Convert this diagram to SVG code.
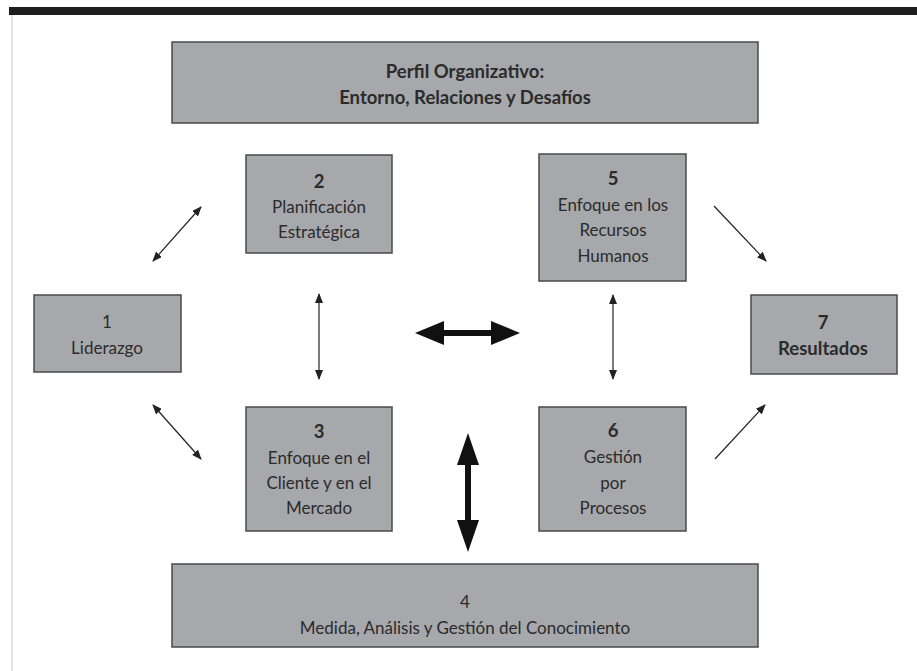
<svg xmlns="http://www.w3.org/2000/svg" width="917" height="671" viewBox="0 0 917 671">
<defs>
<style>
.box{fill:#a7a8ab;stroke:#4a4a4a;stroke-width:1.5}
.t{font-family:Lato,"Liberation Sans",sans-serif;font-size:17px;fill:#2b2b2b;text-anchor:middle}
.b{font-weight:bold;font-size:18.5px}
.thin{stroke:#222;stroke-width:1.2;fill:none}
.thick{fill:#111}
</style>
<marker id="ah" viewBox="0 0 10 8" refX="9" refY="4" markerWidth="10" markerHeight="8" markerUnits="userSpaceOnUse" orient="auto-start-reverse">
<path d="M0,0 L10,4 L0,8 Z" fill="#222"/>
</marker>
</defs>
<rect width="917" height="671" fill="#ffffff"/>
<rect x="9" y="7" width="908" height="8" fill="#1e1e1e"/>
<line x1="12" y1="15" x2="12" y2="671" stroke="#e2e2e2" stroke-width="2"/>

<g id="connectors">
<line class="thin" x1="153" y1="261" x2="201" y2="207" marker-start="url(#ah)" marker-end="url(#ah)"/>
<line class="thin" x1="153" y1="405" x2="201" y2="459" marker-start="url(#ah)" marker-end="url(#ah)"/>
<line class="thin" x1="319" y1="294" x2="319" y2="379" marker-start="url(#ah)" marker-end="url(#ah)"/>
<line class="thin" x1="613" y1="295" x2="613" y2="379" marker-start="url(#ah)" marker-end="url(#ah)"/>
<line class="thin" x1="714" y1="206" x2="766" y2="261" marker-end="url(#ah)"/>
<line class="thin" x1="715" y1="459" x2="765" y2="405" marker-end="url(#ah)"/>
<polygon class="thick" points="415,333 444,321 444,330 491,330 491,321 520,333 491,345 491,336 444,336 444,345"/>
<polygon class="thick" points="468,433 479,465 471,465 471,520 479,520 468,552 457,520 465,520 465,465 457,465"/>
</g>

<g id="perfil">
<rect class="box" x="172" y="42" width="586" height="81"/>
<text class="t b" x="465" y="78">Perfil Organizativo:</text>
<text class="t b" x="465" y="104">Entorno, Relaciones y Desafíos</text>
</g>

<g id="n1">
<rect class="box" x="34" y="295" width="147" height="77"/>
<text class="t" x="107" y="328">1</text>
<text class="t" x="107" y="354">Liderazgo</text>
</g>

<g id="n2">
<rect class="box" x="246" y="155" width="146" height="98"/>
<text class="t b" x="319" y="188">2</text>
<text class="t" x="319" y="213">Planificación</text>
<text class="t" x="319" y="238">Estratégica</text>
</g>

<g id="n3">
<rect class="box" x="246" y="407" width="146" height="124"/>
<text class="t b" x="319" y="438">3</text>
<text class="t" x="319" y="464">Enfoque en el</text>
<text class="t" x="319" y="489">Cliente y en el</text>
<text class="t" x="319" y="514">Mercado</text>
</g>

<g id="n4">
<rect class="box" x="172" y="564" width="586" height="83"/>
<text class="t" x="465" y="608">4</text>
<text class="t" x="465" y="634">Medida, Análisis y Gestión del Conocimiento</text>
</g>

<g id="n5">
<rect class="box" x="539" y="154" width="147" height="127"/>
<text class="t b" x="613" y="185">5</text>
<text class="t" x="613" y="211">Enfoque en los</text>
<text class="t" x="613" y="236">Recursos</text>
<text class="t" x="613" y="262">Humanos</text>
</g>

<g id="n6">
<rect class="box" x="539" y="407" width="147" height="124"/>
<text class="t b" x="613" y="437">6</text>
<text class="t" x="613" y="463">Gestión</text>
<text class="t" x="613" y="489">por</text>
<text class="t" x="613" y="514">Procesos</text>
</g>

<g id="n7">
<rect class="box" x="751" y="295" width="146" height="79"/>
<text class="t b" x="823" y="329">7</text>
<text class="t b" x="823" y="355">Resultados</text>
</g>
</svg>
